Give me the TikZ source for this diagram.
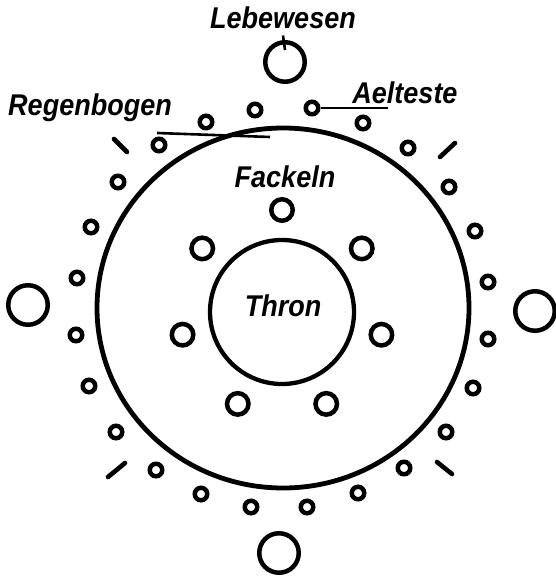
\documentclass[tikz,border=0pt]{standalone}
\usepackage{fontspec}
\newfontfamily\labelfont[FakeStretch=0.9]{Liberation Sans}
\usetikzlibrary{shapes.geometric}
\tikzset{
  elder/.style={circle,draw,line width=4.5pt,minimum size=12.5pt,inner sep=0pt},
  torch/.style={circle,draw,line width=4.5pt,minimum size=21.5pt,inner sep=0pt},
  creature/.style={circle,draw,line width=4.5pt,minimum size=39.5pt,inner sep=0pt},
  caption/.style={inner sep=0pt,anchor=base,font=\labelfont\bfseries\itshape\fontsize{30}{30}\selectfont},
  pointer/.style={line width=2.6pt},
  gapmark/.style={line width=4.6pt,line cap=round}
}

\begin{document}
\begin{tikzpicture}[x=1pt,y=-1pt]
  \useasboundingbox (0,0) rectangle (555,578);
  \node[ellipse,draw,line width=4.8pt,minimum width=372pt,minimum height=360pt,inner sep=0pt] (rainbow) at (283,308) {};
  \node[circle,draw,line width=4.3pt,minimum size=144pt,inner sep=0pt] (throne) at (282,312) {};
  \node[caption] (thronlabel) at (283,316) {Thron};
  \foreach \i in {0,...,6}
    {\node[torch] (f\i) at ([shift={(282,312)}]{270-\i*360/7}:102) {};}
  \node[caption] (fackellabel) at (285,187) {Fackeln};
  \foreach \p [count=\i] in {(159,145),(206,122),(255,110),(312,108),(363,123),(408,148),
                             (449,187),(475,231),(488,282),(488,339),(473,388),(446,432),
                             (404,468),(358,493),(307,507),(251,507),(201,494),(156,470),
                             (116,432),(89,386),(76,335),(77,278),(91,227),(118,182)}
    {\node[elder] (e\i) at \p {};}
  \node[creature] (lwtop) at (285,62) {};
  \node[creature] (lwright) at (535,311) {};
  \node[creature] (lwbottom) at (279,553) {};
  \node[creature] (lwleft) at (28,305) {};
  \foreach \a/\b in {{(114,139)}/{(127,152)},{(440,157)}/{(455,143)},
                     {(108,477)}/{(125,463)},{(437,462)}/{(452,474)}}
    {\draw[gapmark] \a -- \b;}
  \node[caption] (lwlabel) at (283,29) {Lebewesen};
  \node[caption] (aelabel) at (405,103) {Aelteste};
  \node[caption] (rblabel) at (90,115) {Regenbogen};
  \coordinate (aeend) at (388,108);
  \coordinate (rbstart) at (157,133);
  \coordinate (rbend) at (270,137);
  \draw[pointer] ([yshift=-6pt]lwlabel.south) -- ([yshift=-10pt]lwtop.north);
  \draw[pointer] (e4.east) -- (aeend);
  \draw[pointer] (rbstart) -- (rbend);
\end{tikzpicture}
\end{document}
